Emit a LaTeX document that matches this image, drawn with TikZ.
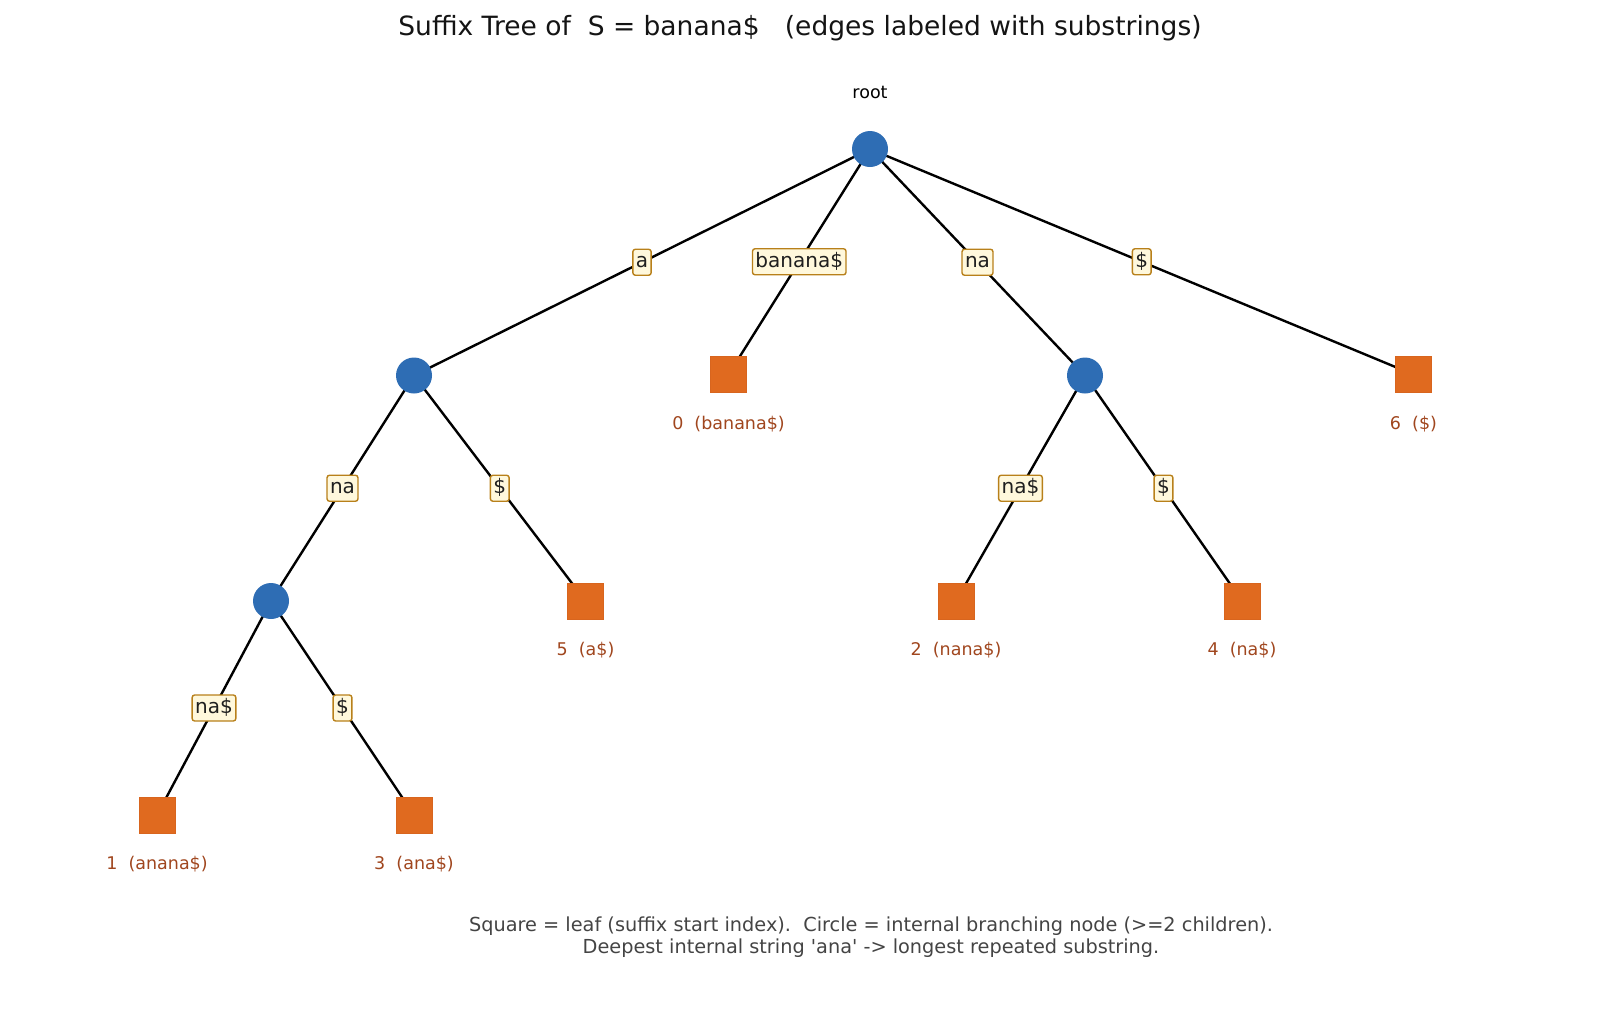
\documentclass[tikz,border=0pt]{standalone}
\usepackage{fontspec}
\usetikzlibrary{calc}
\setmainfont{DejaVu Sans}
\definecolor{inode}{HTML}{2E6DB4}
\definecolor{leaf}{HTML}{E06A1F}
\definecolor{leafb}{HTML}{D8651E}
\definecolor{leaftxt}{HTML}{A0461E}
\definecolor{lblfill}{HTML}{FFF8DC}
\definecolor{lbldraw}{HTML}{B8801A}
\definecolor{foot}{HTML}{444444}
\begin{document}
\begin{tikzpicture}[x=1pt,y=-1pt,
  inner/.style={circle,fill=inode,minimum size=36pt,inner sep=0pt},
  leafnode/.style={rectangle,fill=leaf,draw=leafb,line width=0.6pt,minimum size=36pt,inner sep=0pt},
  edge/.style={line width=2.4pt,black},
  lbl/.style={draw=lbldraw,fill=lblfill,line width=1.4pt,rounded corners=2.5pt,inner xsep=3pt,inner ysep=2.5pt,
    text height=16pt,text depth=5pt,font=\fontsize{20}{23}\selectfont,text=black!88},
  leaflbl/.style={font=\fontsize{17.5}{20}\selectfont,text=leaftxt},
]
\useasboundingbox (0,0) rectangle (1600,1012);
% title
\node[font=\fontsize{26.5}{30}\selectfont,text=black!92] (title) at (800,28) {Suffix Tree of\ \ S = banana\$\ \ \ (edges labeled with substrings)};
% node positions
\coordinate (root) at (870,149);
\coordinate (A) at (414,375.5);
\coordinate (NA) at (1085,375.5);
\coordinate (ANA) at (271,601);
\coordinate (L0) at (728.5,374.5);
\coordinate (L6) at (1413.5,374.5);
\coordinate (L5) at (585.5,601);
\coordinate (L2) at (956,601);
\coordinate (L4) at (1242,601);
\coordinate (L1) at (157,815);
\coordinate (L3) at (414,815);
% edges
\draw[edge] (root) -- (A);
\draw[edge] (root) -- (L0);
\draw[edge] (root) -- (NA);
\draw[edge] (root) -- (L6);
\draw[edge] (A) -- (ANA);
\draw[edge] (A) -- (L5);
\draw[edge] (NA) -- (L2);
\draw[edge] (NA) -- (L4);
\draw[edge] (ANA) -- (L1);
\draw[edge] (ANA) -- (L3);
% nodes on top
\node[inner] (nroot) at (root) {};
\node[inner] (nA) at (A) {};
\node[inner] (nNA) at (NA) {};
\node[inner] (nANA) at (ANA) {};
\node[leafnode] (nL0) at (L0) {};
\node[leafnode] (nL6) at (L6) {};
\node[leafnode] (nL5) at (L5) {};
\node[leafnode] (nL2) at (L2) {};
\node[leafnode] (nL4) at (L4) {};
\node[leafnode] (nL1) at (L1) {};
\node[leafnode] (nL3) at (L3) {};
% edge labels
\node[lbl] (e1) at ($(root)!0.5!(A)$) {a};
\node[lbl] (e2) at ($(root)!0.5!(L0)$) {banana\$};
\node[lbl] (e3) at ($(root)!0.5!(NA)$) {na};
\node[lbl] (e4) at ($(root)!0.5!(L6)$) {\$};
\node[lbl] (e5) at ($(A)!0.5!(ANA)$) {na};
\node[lbl] (e6) at ($(A)!0.5!(L5)$) {\$};
\node[lbl] (e7) at ($(NA)!0.5!(L2)$) {na\$};
\node[lbl] (e8) at ($(NA)!0.5!(L4)$) {\$};
\node[lbl] (e9) at ($(ANA)!0.5!(L1)$) {na\$};
\node[lbl] (e10) at ($(ANA)!0.5!(L3)$) {\$};
% node labels
\node[font=\fontsize{17.5}{20}\selectfont] (rootlbl) at ([yshift=57pt]root) {root};
\node[leaflbl] (t0) at ([yshift=-49.5pt]L0) {0\ \ (banana\$)};
\node[leaflbl] (t6) at ([yshift=-49.5pt]L6) {6\ \ (\$)};
\node[leaflbl] (t5) at ([yshift=-49.5pt]L5) {5\ \ (a\$)};
\node[leaflbl] (t2) at ([yshift=-49.5pt]L2) {2\ \ (nana\$)};
\node[leaflbl] (t4) at ([yshift=-49.5pt]L4) {4\ \ (na\$)};
\node[leaflbl] (t1) at ([yshift=-49pt]L1) {1\ \ (anana\$)};
\node[leaflbl] (t3) at ([yshift=-49pt]L3) {3\ \ (ana\$)};
% footer
\node[font=\fontsize{19.3}{21.8}\selectfont,text=foot,align=center] (foot) at (871,937) {\frenchspacing Square = leaf (suffix start index).\ \ Circle = internal branching node (>=2 children).\\
\frenchspacing Deepest internal string \textquotesingle ana\textquotesingle\ -> longest repeated substring.};
\end{tikzpicture}
\end{document}
